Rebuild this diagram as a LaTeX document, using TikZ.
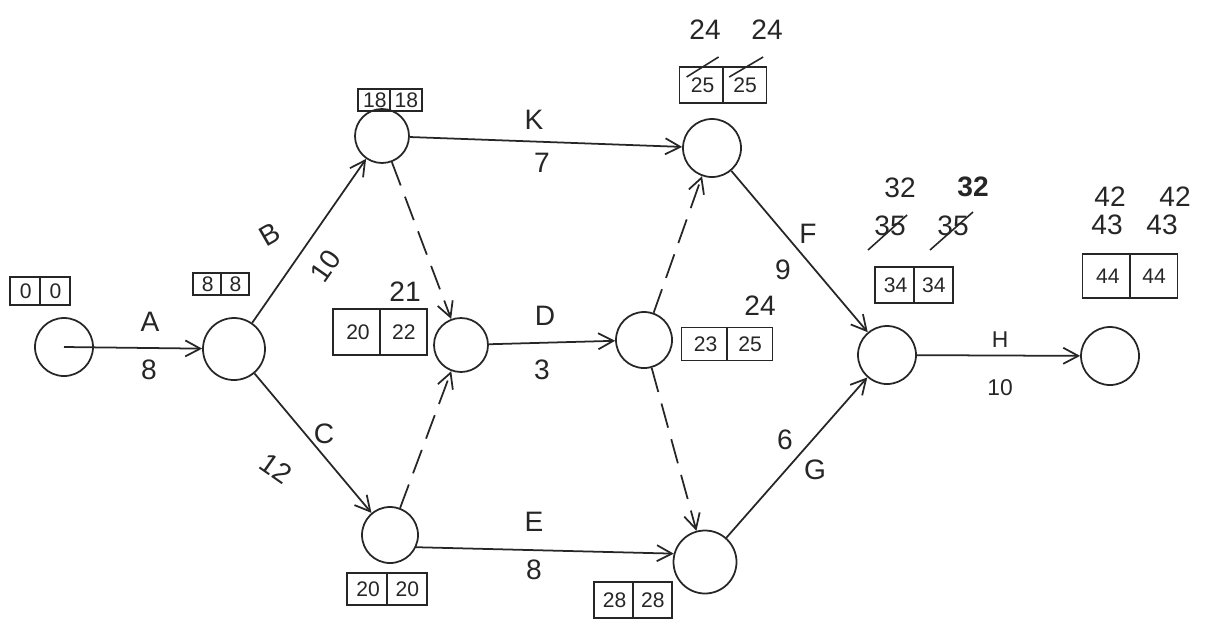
\documentclass[tikz,border=0pt]{standalone}
\usepackage{fontspec}
\setmainfont{Liberation Sans}
\usetikzlibrary{arrows.meta,calc}

\tikzset{
  event/.style={circle,draw,line width=1pt,minimum size=11.6mm,inner sep=0pt},
  act/.style={line width=1pt,-{Straight Barb[length=3mm,width=3.2mm]}},
  dummy/.style={act,dash pattern=on 5mm off 2.4mm},
  lbl/.style={font=\fontsize{16}{18}\selectfont,inner sep=1pt},
  sml/.style={font=\fontsize{13}{15}\selectfont,inner sep=1pt},
  num/.style={font=\fontsize{12}{14}\selectfont,inner sep=0pt},
  tbox/.style={draw,line width=1pt,inner sep=0pt},
  strike/.style={line width=0.9pt},
}

% box with early and late times: name, position, width, height, early, late
\newcommand\evbox[6]{%
  \node[tbox,minimum width=#3*0.2mm,minimum height=#4*0.2mm] (#1) at #2 {};
  \draw[line width=1pt] (#1.north) -- (#1.south);
  \node[num] (#1a) at ($(#1.west)!0.27!(#1.east)$) {#5};
  \node[num] (#1b) at ($(#1.west)!0.75!(#1.east)$) {#6};
}

\begin{document}
\begin{tikzpicture}[x=0.2mm,y=-0.2mm,black!85]
  \useasboundingbox (0,0) rectangle (1207,624);
  % events
  \node[event] (e1) at (64,347) {};
  \node[event,minimum size=12.4mm] (e2) at (234,349) {};
  \node[event,minimum size=10.8mm] (e3) at (382,136) {};
  \node[event,minimum size=10.8mm] (e4) at (461,345) {};
  \node[event,minimum size=11.2mm] (e5) at (390,535) {};
  \node[event] (e6) at (712,148) {};
  \node[event,minimum size=11.2mm] (e7) at (644,340) {};
  \node[event,minimum size=12.6mm] (e8) at (705,562) {};
  \node[event] (e9) at (887,355) {};
  \node[event] (e10) at (1110,356) {};
  % activities
  \draw[act] (e1.center) -- (e2);
  \draw[act] (e2) -- (e3);
  \draw[act] (e2) -- (e5);
  \draw[act] (e3) -- (e6);
  \draw[act] (e4) -- (e7);
  \draw[act] (e5.-25) -- (e8.165);
  \draw[act] (e6) -- (e9);
  \draw[act] (e8) -- (e9);
  \draw[act] (e9) -- (e10);
  \draw[dummy] (e3) -- (e4);
  \draw[dummy] (e5) -- (e4);
  \draw[dummy] (e7) -- (e6);
  \draw[dummy] (e7) -- (e8);
  % names and durations
  \node[lbl] (tA) at (150,322) {A};
  \node[lbl] (dA) at (149,370) {8};
  \node[lbl,rotate=30] (tB) at (270,234) {B};
  \node[lbl,rotate=55] (dB) at (326,266) {10};
  \node[lbl] (tC) at (324,434) {C};
  \node[lbl,rotate=-35] (dC) at (276,468) {12};
  \node[lbl] (tK) at (534,120) {K};
  \node[lbl] (dK) at (542,163) {7};
  \node[lbl] (tD) at (545,316) {D};
  \node[lbl] (dD) at (542,370) {3};
  \node[lbl] (tE) at (534,522) {E};
  \node[lbl] (dE) at (534,570) {8};
  \node[lbl] (tF) at (808,234) {F};
  \node[lbl] (dF) at (783,270) {9};
  \node[lbl] (tG) at (815,470) {G};
  \node[lbl] (dG) at (785,440) {6};
  \node[sml] (tH) at (1000,340) {H};
  \node[sml] (dH) at (1000,388) {10};
  % event times
  \evbox{b1}{(40,291)}{60}{28}{0}{0}
  \evbox{b2}{(221,284)}{56}{22}{8}{8}
  \evbox{b3}{(390,100)}{64}{22}{18}{18}
  \evbox{b4}{(380,332)}{94}{46}{20}{22}
  \evbox{b5}{(387,589)}{80}{32}{20}{20}
  \evbox{b6}{(723,85)}{87}{36}{25}{25}
  \evbox{b7}{(727,344)}{91}{33}{23}{25}
  \evbox{b8}{(633,600)}{78}{36}{28}{28}
  \evbox{b9}{(914,285)}{78}{36}{34}{34}
  \evbox{b10}{(1130,276)}{95}{44}{44}{44}
  % corrected times
  \node[lbl] (r4) at (405,292) {21};
  \node[lbl] (r6a) at (705,30) {24};
  \node[lbl] (r6b) at (767,30) {24};
  \node[lbl] (r7) at (760,306) {24};
  \node[lbl] (r9a) at (900,188) {32};
  \node[lbl] (r9b) at (973,187) {\textbf{32}};
  \node[lbl] (r9c) at (890,226) {35};
  \node[lbl] (r9d) at (953,226) {35};
  \node[lbl] (r10a) at (1110,197) {42};
  \node[lbl] (r10b) at (1175,197) {42};
  \node[lbl] (r10c) at (1107,225) {43};
  \node[lbl] (r10d) at (1162,225) {43};
  \draw[strike] ($(b6a)+(-16,-8)$) -- ++(32,-20);
  \draw[strike] ($(b6b)+(-16,-8)$) -- ++(34,-20);
  \draw[strike] ($(r9c)+(-22,24)$) -- ++(39,-35);
  \draw[strike] ($(r9d)+(-23,24)$) -- ++(43,-38);
\end{tikzpicture}
\end{document}
